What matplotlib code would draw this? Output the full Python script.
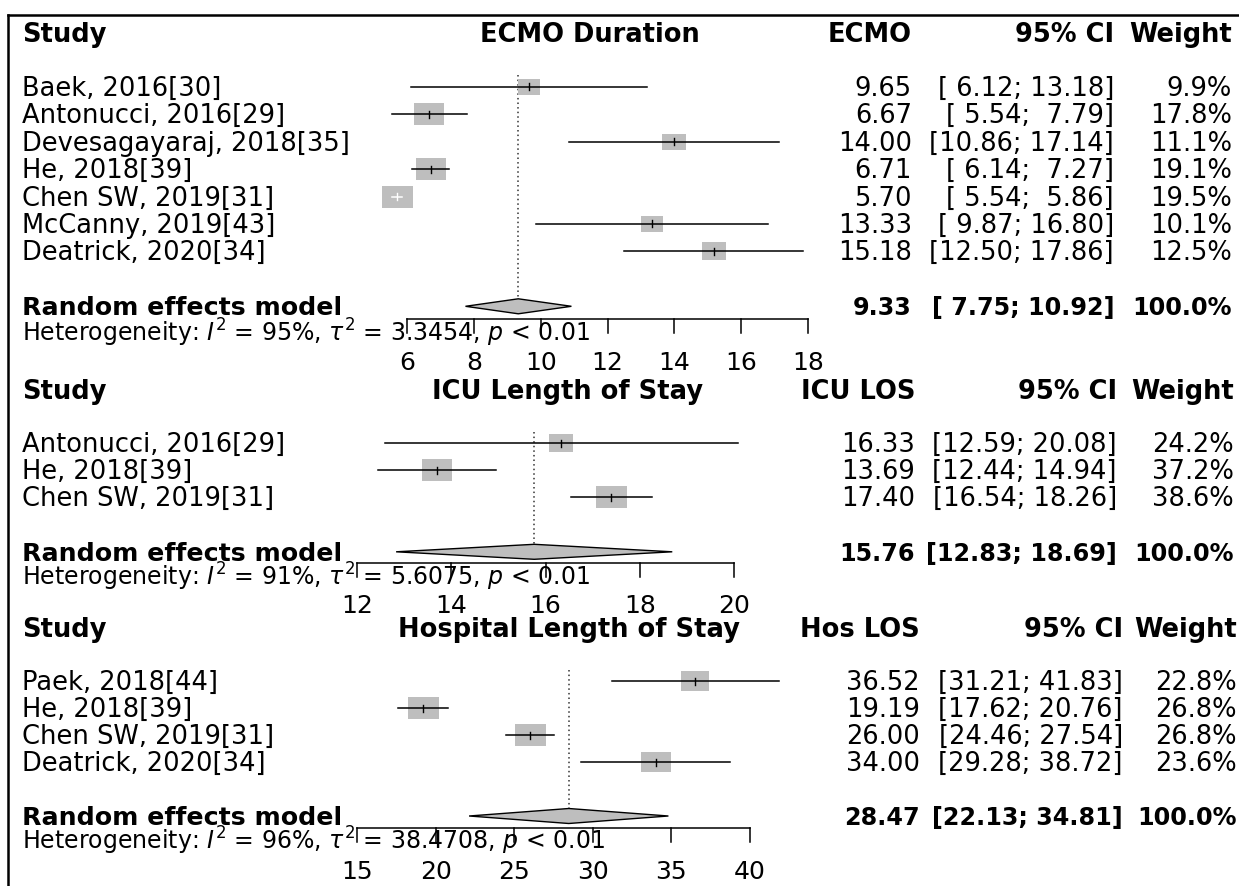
import matplotlib
matplotlib.use("Agg")
import matplotlib.pyplot as plt
import matplotlib.transforms as mtransforms
from matplotlib.path import Path
from matplotlib.lines import Line2D
import numpy as np

# ---- data ----
ecmo_studies = ["Baek, 2016[30]", "Antonucci, 2016[29]", "Devesagayaraj, 2018[35]",
                "He, 2018[39]", "Chen SW, 2019[31]", "McCanny, 2019[43]", "Deatrick, 2020[34]"]
ecmo_est = [9.65, 6.67, 14.00, 6.71, 5.70, 13.33, 15.18]
ecmo_lo = [6.12, 5.54, 10.86, 6.14, 5.54, 9.87, 12.50]
ecmo_hi = [13.18, 7.79, 17.14, 7.27, 5.86, 16.80, 17.86]
ecmo_w = [9.9, 17.8, 11.1, 19.1, 19.5, 10.1, 12.5]
ecmo_sum = (9.33, 7.75, 10.92)
ecmo_het = ("95%", "3.3454")
ecmo_ticks = [6, 8, 10, 12, 14, 16, 18]

icu_studies = ["Antonucci, 2016[29]", "He, 2018[39]", "Chen SW, 2019[31]"]
icu_est = [16.33, 13.69, 17.40]
icu_lo = [12.59, 12.44, 16.54]
icu_hi = [20.08, 14.94, 18.26]
icu_w = [24.2, 37.2, 38.6]
icu_sum = (15.76, 12.83, 18.69)
icu_het = ("91%", "5.6075")
icu_ticks = [12, 14, 16, 18, 20]

hos_studies = ["Paek, 2018[44]", "He, 2018[39]", "Chen SW, 2019[31]", "Deatrick, 2020[34]"]
hos_est = [36.52, 19.19, 26.00, 34.00]
hos_lo = [31.21, 17.62, 24.46, 29.28]
hos_hi = [41.83, 20.76, 27.54, 38.72]
hos_w = [22.8, 26.8, 26.8, 23.6]
hos_sum = (28.47, 22.13, 34.81)
hos_het = ("96%", "38.4708")
hos_ticks = [15, 20, 25, 30, 35, 40]

W, H = 1239, 886
FS = 18.5      # regular text
FSB = 17.2     # bold numbers in the pooled row
GREY = "#bebebe"

panels = [
    dict(title="ECMO Duration", col="ECMO", studies=ecmo_studies, est=ecmo_est, lo=ecmo_lo,
         hi=ecmo_hi, w=ecmo_w, summ=ecmo_sum, het=ecmo_het, ticks=ecmo_ticks,
         row0=86.7, pitch=27.45, x0=407, x1=808, axis_row=8.46, label_row=10.0, het_row=9.0,
         title_x=590, cols=(912, 1114, 1232)),
    dict(title="ICU Length of Stay", col="ICU LOS", studies=icu_studies, est=icu_est, lo=icu_lo,
         hi=icu_hi, w=icu_w, summ=icu_sum, het=icu_het, ticks=icu_ticks,
         row0=443, pitch=27.2, x0=357, x1=734, axis_row=4.42, label_row=5.93, het_row=4.97,
         title_x=568, cols=(915, 1117, 1234)),
    dict(title="Hospital Length of Stay", col="Hos LOS", studies=hos_studies, est=hos_est, lo=hos_lo,
         hi=hos_hi, w=hos_w, summ=hos_sum, het=hos_het, ticks=hos_ticks,
         row0=681, pitch=27.0, x0=357, x1=750, axis_row=5.44, label_row=7.0, het_row=5.95,
         title_x=569, cols=(920, 1123, 1237)),
]

box_path = Path([(-0.7, -0.5), (0.7, -0.5), (0.7, 0.5), (-0.7, 0.5), (-0.7, -0.5)],
                [Path.MOVETO, Path.LINETO, Path.LINETO, Path.LINETO, Path.CLOSEPOLY])

fig = plt.figure(figsize=(W / 100, H / 100), dpi=100)


def fmt_ci(lo, hi):
    return "[%5.2f; %5.2f]" % (lo, hi)


def draw_panel(p):
    ax = fig.add_axes([0, 0, 1, 1])
    ax.set_axis_off()
    ax.patch.set_visible(False)
    ticks = p["ticks"]
    slope = (p["x1"] - p["x0"]) / (ticks[-1] - ticks[0])
    ax.set_xlim(ticks[0] - p["x0"] / slope, ticks[0] + (W - p["x0"]) / slope)
    pitch = p["pitch"]
    ax.set_ylim((H - p["row0"]) / pitch, -p["row0"] / pitch)
    tr = mtransforms.blended_transform_factory(fig.transFigure, ax.transData)
    base = 9.0 / pitch  # half cap height -> baseline offset

    n = len(p["studies"])
    rows = np.arange(n)
    rand_row = n + 1

    # header
    hy = -1.95 + base
    ax.text(22 / W, hy, "Study", transform=tr, fontsize=FS, fontweight="bold", va="baseline")
    ax.text(p["title_x"] / W, hy, p["title"], transform=tr, fontsize=FS, fontweight="bold",
            va="baseline", ha="center")
    c1, c2, c3 = p["cols"]
    ax.text(c1 / W, hy, p["col"], transform=tr, fontsize=FS, fontweight="bold", va="baseline", ha="right")
    ax.text(c2 / W, hy, "95% CI", transform=tr, fontsize=FS, fontweight="bold", va="baseline", ha="right")
    ax.text(c3 / W, hy, "Weight", transform=tr, fontsize=FS, fontweight="bold", va="baseline", ha="right")

    # reference line at pooled estimate
    est_s, lo_s, hi_s = p["summ"]
    ax.plot([est_s, est_s], [-0.42, rand_row - 0.27], color="#333333", lw=1.1, ls=(0, (1, 2)))

    # studies
    wmax = max(p["w"])
    for i in range(n):
        est, lo, hi, w = p["est"][i], p["lo"][i], p["hi"][i], p["w"][i]
        box_px = 31 * np.sqrt(w / wmax)
        ax.scatter([est], [rows[i]], marker=box_path, s=(box_px * 0.72) ** 2,
                   color=GREY, linewidths=0, zorder=2)
        inside = (hi - lo) * slope < box_px
        col = "white" if inside else "black"
        ax.plot([lo, hi], [rows[i], rows[i]], color=col, lw=1.1, zorder=3)
        ax.plot([est, est], [rows[i] - 3.5 / pitch, rows[i] + 3.5 / pitch], color=col, lw=1.0, zorder=3)
        y = rows[i] + base
        ax.text(22 / W, y, p["studies"][i], transform=tr, fontsize=FS, va="baseline")
        ax.text(c1 / W, y, "%.2f" % est, transform=tr, fontsize=FS, va="baseline", ha="right")
        ax.text(c2 / W, y, fmt_ci(lo, hi), transform=tr, fontsize=FS, va="baseline", ha="right")
        ax.text(c3 / W, y, "%.1f%%" % w, transform=tr, fontsize=FS, va="baseline", ha="right")

    # pooled diamond
    dh = 7.5 / pitch
    ax.fill([lo_s, est_s, hi_s, est_s], [rand_row, rand_row - dh, rand_row, rand_row + dh],
            facecolor=GREY, edgecolor="black", lw=1.0, zorder=3)
    y = rand_row + base
    ax.text(22 / W, y, "Random effects model", transform=tr, fontsize=18.2, fontweight="bold", va="baseline")
    ax.text(c1 / W, y, "%.2f" % est_s, transform=tr, fontsize=FSB, fontweight="bold", va="baseline", ha="right")
    ax.text(c2 / W, y, fmt_ci(lo_s, hi_s), transform=tr, fontsize=FSB, fontweight="bold", va="baseline", ha="right")
    ax.text(c3 / W, y, "100.0%", transform=tr, fontsize=FSB, fontweight="bold", va="baseline", ha="right")

    # heterogeneity
    i2, tau2 = p["het"]
    ax.text(22 / W, p["het_row"] + 7.5 / pitch,
            r"Heterogeneity: $I^2$ = %s, $\tau^2$ = %s, $p$ < 0.01" % (i2, tau2),
            transform=tr, fontsize=17, va="baseline", zorder=1)

    # x axis (ticks pointing down)
    ay = p["axis_row"]
    tl = 14.0 / pitch
    ax.plot([ticks[0], ticks[-1]], [ay, ay], color="black", lw=1.1, zorder=4)
    for t in ticks:
        ax.plot([t, t], [ay, ay + tl], color="black", lw=1.1, zorder=4)
        ax.text(t, p["label_row"] + 9.0 / pitch, str(t), fontsize=18, ha="center", va="baseline")


for p in panels:
    draw_panel(p)

# frame (left and top edges)
fig.add_artist(Line2D([8 / W, 8 / W], [0, 1 - 15 / H], color="black", lw=1.8, transform=fig.transFigure))
fig.add_artist(Line2D([8 / W, 1], [1 - 15 / H, 1 - 15 / H], color="black", lw=1.8, transform=fig.transFigure))

fig.savefig("out.png", dpi=100, facecolor="white")
